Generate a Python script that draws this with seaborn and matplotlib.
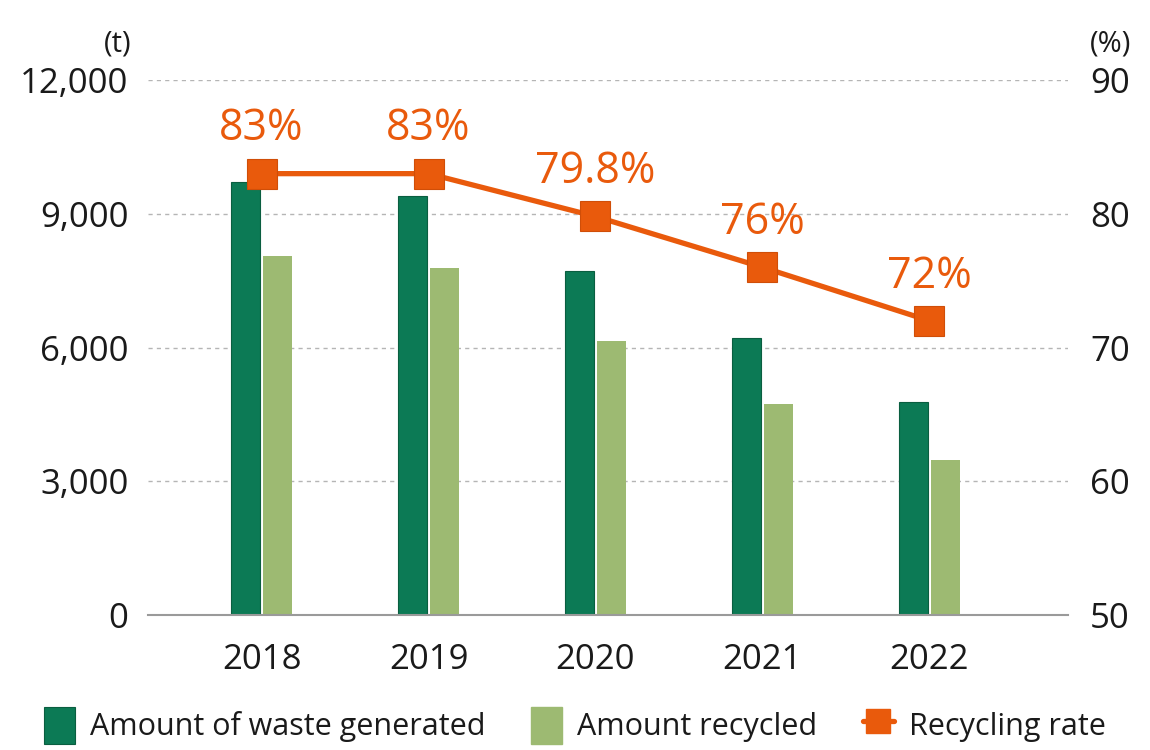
import matplotlib.pyplot as plt
import numpy as np
import pandas as pd
import seaborn as sns
from matplotlib.lines import Line2D
from matplotlib.patches import Patch

# data
years = ["2018", "2019", "2020", "2021", "2022"]
waste_generated = [9720, 9400, 7720, 6210, 4780]
amount_recycled = [8050, 7780, 6150, 4730, 3480]
recycling_rate = [83, 83, 79.8, 76, 72]
rate_labels = ["83%", "83%", "79.8%", "76%", "72%"]

left_ticks = [0, 3000, 6000, 9000, 12000]
right_ticks = [50, 60, 70, 80, 90]

dark_green = "#0c7a55"
light_green = "#9dba72"
orange = "#e95a0c"
txt = "#1a1a1a"

sns.set_theme(style="white")
plt.rcParams['font.family'] = ['Open Sans', 'DejaVu Sans']

df = pd.DataFrame({
    "year": years * 2,
    "value": waste_generated + amount_recycled,
    "kind": ["Amount of waste generated"] * 5 + ["Amount recycled"] * 5,
})

fig = plt.figure(figsize=(11.5, 7.5), dpi=100)
ax = fig.add_axes([0.1287, 0.18, 0.80, 0.7133])

sns.barplot(data=df, x="year", y="value", hue="kind",
            palette=[dark_green, light_green], saturation=1, width=0.38, gap=0.08,
            linewidth=0, legend=False, ax=ax)
# thin darker outline on the dark bars only
for bar in ax.patches[:len(years)]:
    bar.set_edgecolor("#0a5e40")
    bar.set_linewidth(0.8)

ax.set_xlim(-0.68, 4.83)
ax.set_ylim(0, 12000)
ax.set_yticks(left_ticks)
ax.set_yticklabels([f"{t:,}" for t in left_ticks])
ax.set_xlabel("")
ax.set_ylabel("")
ax.set_axisbelow(True)
ax.yaxis.grid(True, linestyle=(0, (3, 3)), color="#b5b5b5", linewidth=1)
ax.xaxis.grid(False)
for s in ["top", "left", "right"]:
    ax.spines[s].set_visible(False)
ax.spines["bottom"].set_color("#9a9a9a")
ax.spines["bottom"].set_linewidth(1.5)
ax.tick_params(axis="y", length=0, pad=14, labelsize=25, colors=txt)
ax.tick_params(axis="x", length=0, pad=20, labelsize=25, colors=txt)

ax2 = ax.twinx()
x = np.arange(len(years))
ax2.plot(x, recycling_rate, color=orange, linewidth=3.8, marker="s",
         markersize=21, markerfacecolor=orange, markeredgecolor="#d04e08",
         markeredgewidth=0.8, zorder=5)
for xi, yi, lab in zip(x, recycling_rate, rate_labels):
    ax2.annotate(lab, (xi, yi), xytext=(0, 16), textcoords="offset points",
                 ha="center", va="bottom", fontsize=31, color=orange)
ax2.set_ylim(50, 90)
ax2.set_yticks(right_ticks)
ax2.tick_params(axis="y", length=0, pad=16, labelsize=25, colors=txt)
for s in ["top", "left", "right", "bottom"]:
    ax2.spines[s].set_visible(False)
ax2.grid(False)

fig.text(0.114, 0.942, "(t)", ha="right", va="center", fontsize=21, color=txt)
fig.text(0.966, 0.942, "(%)", ha="center", va="center", fontsize=21, color=txt)

handles = [
    Patch(facecolor=dark_green, edgecolor="#0a5e40", linewidth=0.8),
    Patch(facecolor=light_green, edgecolor=light_green),
    Line2D([0], [0], color=orange, linewidth=3.8, marker="s", markersize=17),
]
labels = ["Amount of waste generated", "Amount recycled", "Recycling rate"]
fig.legend(handles, labels, loc="lower center", bbox_to_anchor=(0.5, -0.028), ncol=3,
           frameon=False, handlelength=1.0, handleheight=1.45,
           columnspacing=1.5, handletextpad=0.5, labelcolor=txt,
           prop={'family': ['Open Sans', 'DejaVu Sans'], 'size': 22})

fig.savefig("out.png", dpi=100)
